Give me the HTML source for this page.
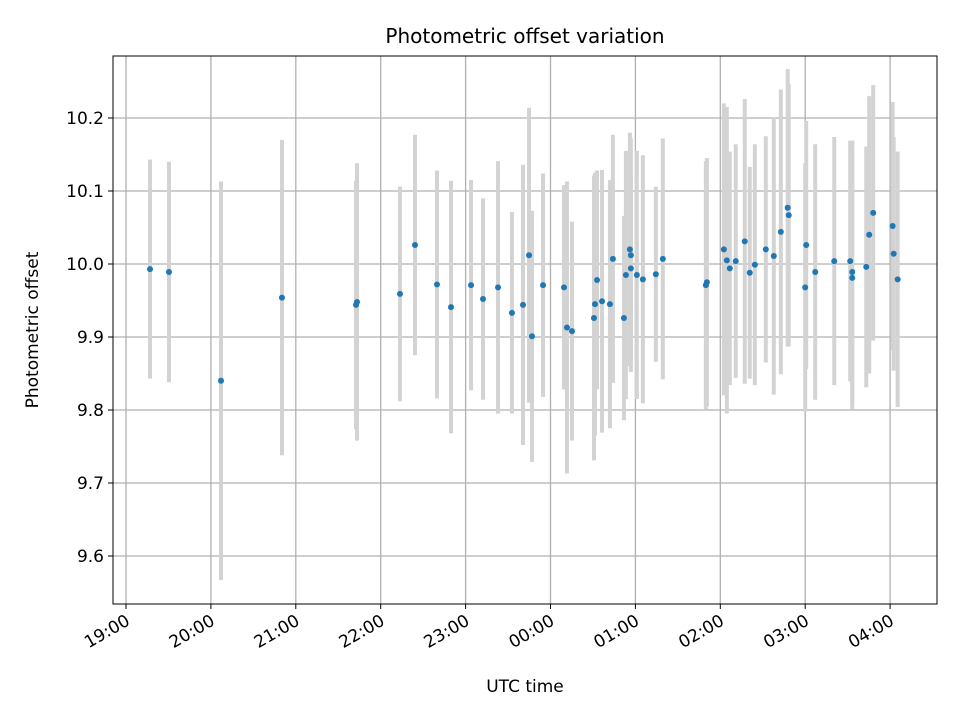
<!DOCTYPE html>
<html><head><meta charset="utf-8"><style>
body{margin:0;background:#fff}
svg text{font-family:"DejaVu Sans","Liberation Sans",sans-serif;fill:#000}
</style></head><body>
<svg id="chart" width="960" height="720" xmlns="http://www.w3.org/2000/svg">
<rect width="960" height="720" fill="#fff"/>
<g id="grid"></g><g id="bars"></g><g id="pts"></g><g id="axes"></g>
<text x="525" y="43" font-size="20" text-anchor="middle">Photometric offset variation</text>
<text x="525" y="692" font-size="17" text-anchor="middle">UTC time</text>
<text transform="translate(38,330) rotate(-90)" font-size="17" text-anchor="middle">Photometric offset</text>
</svg>
<script>
// hours since 19:00
const times=[0.283,0.506,1.119,1.837,2.709,2.721,3.227,3.404,3.663,3.828,4.064,4.205,4.382,4.546,4.676,4.747,4.782,4.912,5.159,5.194,5.253,5.512,5.524,5.548,5.607,5.70,5.735,5.865,5.888,5.935,5.947,5.947,6.017,6.088,6.241,6.323,6.830,6.842,7.042,7.077,7.112,7.182,7.288,7.347,7.407,7.536,7.630,7.713,7.794,7.806,8.0,8.012,8.118,8.342,8.530,8.554,8.554,8.719,8.754,8.801,9.030,9.042,9.089];
const values=[9.993,9.989,9.840,9.954,9.944,9.948,9.959,10.026,9.972,9.941,9.971,9.952,9.968,9.933,9.944,10.012,9.901,9.971,9.968,9.913,9.908,9.926,9.945,9.978,9.949,9.945,10.007,9.926,9.985,10.020,10.012,9.994,9.985,9.979,9.986,10.007,9.971,9.975,10.020,10.005,9.994,10.004,10.031,9.988,9.999,10.020,10.011,10.044,10.077,10.067,9.968,10.026,9.989,10.004,10.004,9.989,9.981,9.996,10.040,10.070,10.052,10.014,9.979];
const errors=[0.150,0.151,0.273,0.216,0.17,0.19,0.147,0.151,0.156,0.173,0.144,0.138,0.173,0.138,0.192,0.202,0.172,0.153,0.14,0.2,0.15,0.195,0.18,0.15,0.18,0.17,0.17,0.14,0.17,0.16,0.16,0.13,0.17,0.17,0.12,0.165,0.17,0.17,0.20,0.21,0.16,0.16,0.195,0.145,0.165,0.155,0.19,0.195,0.19,0.18,0.17,0.17,0.175,0.17,0.165,0.18,0.18,0.165,0.19,0.175,0.17,0.16,0.175];
const yTicks=[9.6,9.7,9.8,9.9,10.0,10.1,10.2];
const xTickLabels=["19:00","20:00","21:00","22:00","23:00","00:00","01:00","02:00","03:00","04:00"];
const L=113,R=937,T=56,B=604;
const xs=h=>126+h*84.9;
const ys=v=>264-(v-10)*730;
const NS="http://www.w3.org/2000/svg";
function mk(p,tag,a){const e=document.createElementNS(NS,tag);for(const k in a)e.setAttribute(k,a[k]);document.getElementById(p).appendChild(e);return e;}
yTicks.forEach(t=>{const y=ys(t);
 const g=mk('grid','line',{x1:L,x2:R,y1:y,y2:y,stroke:'#b0b0b0','stroke-width':1.3});
 
 
 mk('axes','line',{x1:L-5,x2:L,y1:y,y2:y,stroke:'#000'});
 const tx=mk('axes','text',{x:L-9,y:y+6,'font-size':17,'text-anchor':'end'});tx.textContent=t.toFixed(1);
 
 
});
xTickLabels.forEach((lab,i)=>{const x=xs(i);
 const g=mk('grid','line',{x1:x,x2:x,y1:T,y2:B,stroke:'#b0b0b0','stroke-width':1.3});
 
 
 mk('axes','line',{x1:x,x2:x,y1:B,y2:B+5,stroke:'#000'});
 const tx=mk('axes','text',{transform:`translate(${x+5},${B+20}) rotate(-30)`,'font-size':17,'text-anchor':'end'});tx.textContent=lab;
 
 
});
const fr=mk('axes','rect',{x:L,y:T,width:R-L,height:B-T,fill:'none',stroke:'#000','stroke-width':1});


times.forEach((h,i)=>{const x=xs(h);
 const b=mk('bars','line',{x1:x,x2:x,y1:ys(values[i]+errors[i]),y2:ys(values[i]-errors[i]),stroke:'#d3d3d3','stroke-width':4});
 
 
 const c=mk('pts','circle',{cx:x,cy:ys(values[i]),r:3,fill:'#1f77b4'});
 
 
});
</script>
</body></html>
